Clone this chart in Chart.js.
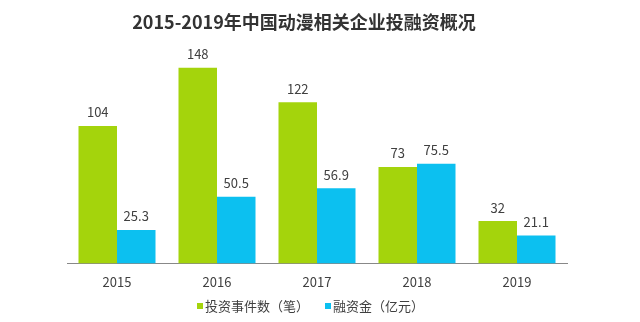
<!DOCTYPE html>
<html>
<head>
<meta charset="utf-8">
<script src="https://cdn.jsdelivr.net/npm/chart.js@4"></script>
<style>
  html, body { margin: 0; padding: 0; background: #fff; }
  #wrap { width: 640px; height: 322px; position: relative; }
</style>
</head>
<body>
<div id="wrap"><canvas id="chart"></canvas></div>
<script>
const years = ["2015", "2016", "2017", "2018", "2019"];
const dealCounts = [104, 148, 122, 73, 32];
const fundingAmounts = [25.3, 50.5, 56.9, 75.5, 21.1];
const seriesNames = ["投资事件数（笔）", "融资金（亿元）"];
const chartTitle = "2015-2019年中国动漫相关企业投融资概况";

const FONT = "'Noto Sans CJK SC', 'Open Sans', sans-serif";

/* value labels, title and a small legend drawn by hand */
const labelPlugin = {
  id: "labels",
  afterDatasetsDraw(chart) {
    const c = chart.ctx;
    c.save();
    c.font = "13px " + FONT;
    c.fillStyle = "#404040";
    c.textAlign = "center";
    c.textBaseline = "bottom";
    chart.data.datasets.forEach((ds, i) => {
      chart.getDatasetMeta(i).data.forEach((bar, j) => {
        c.fillText(String(ds.data[j]), bar.x, bar.y - 7);
      });
    });

    c.font = "bold 18px " + FONT;
    c.fillStyle = "#333";
    c.textBaseline = "middle";
    c.fillText(chartTitle, 304, 22);

    // legend
    c.font = "13px " + FONT;
    c.textAlign = "left";
    let x = 197;
    const y = 306;
    chart.data.datasets.forEach(ds => {
      c.fillStyle = ds.backgroundColor;
      c.fillRect(x, y - 3, 6, 6);
      x += 8;
      c.fillStyle = "#404040";
      c.fillText(ds.label, x, y);
      x += c.measureText(ds.label).width + 16;
    });
    c.restore();
  }
};

const ctx = document.getElementById("chart");

new Chart(ctx, {
  type: "bar",
  data: {
    labels: years,
    datasets: [{
      label: seriesNames[0],
      data: dealCounts,
      backgroundColor: "#a4d40c"
    }, {
      label: seriesNames[1],
      data: fundingAmounts,
      backgroundColor: "#0cc0f0"
    }]
  },
  options: {
    responsive: true,
    maintainAspectRatio: false,
    animation: false,
    layout: { padding: { left: 67, right: 73, top: 52, bottom: 29 } },
    datasets: { bar: { categoryPercentage: 0.77, barPercentage: 1 } },
    plugins: {
      legend: { display: false },
      tooltip: { enabled: false }
    },
    scales: {
      x: {
        grid: { display: false },
        border: { color: "#888" },
        ticks: { color: "#404040", font: { size: 13, family: FONT }, padding: 3 }
      },
      y: { display: false, min: 0, max: 160 }
    }
  },
  plugins: [labelPlugin]
});
</script>
</body>
</html>
